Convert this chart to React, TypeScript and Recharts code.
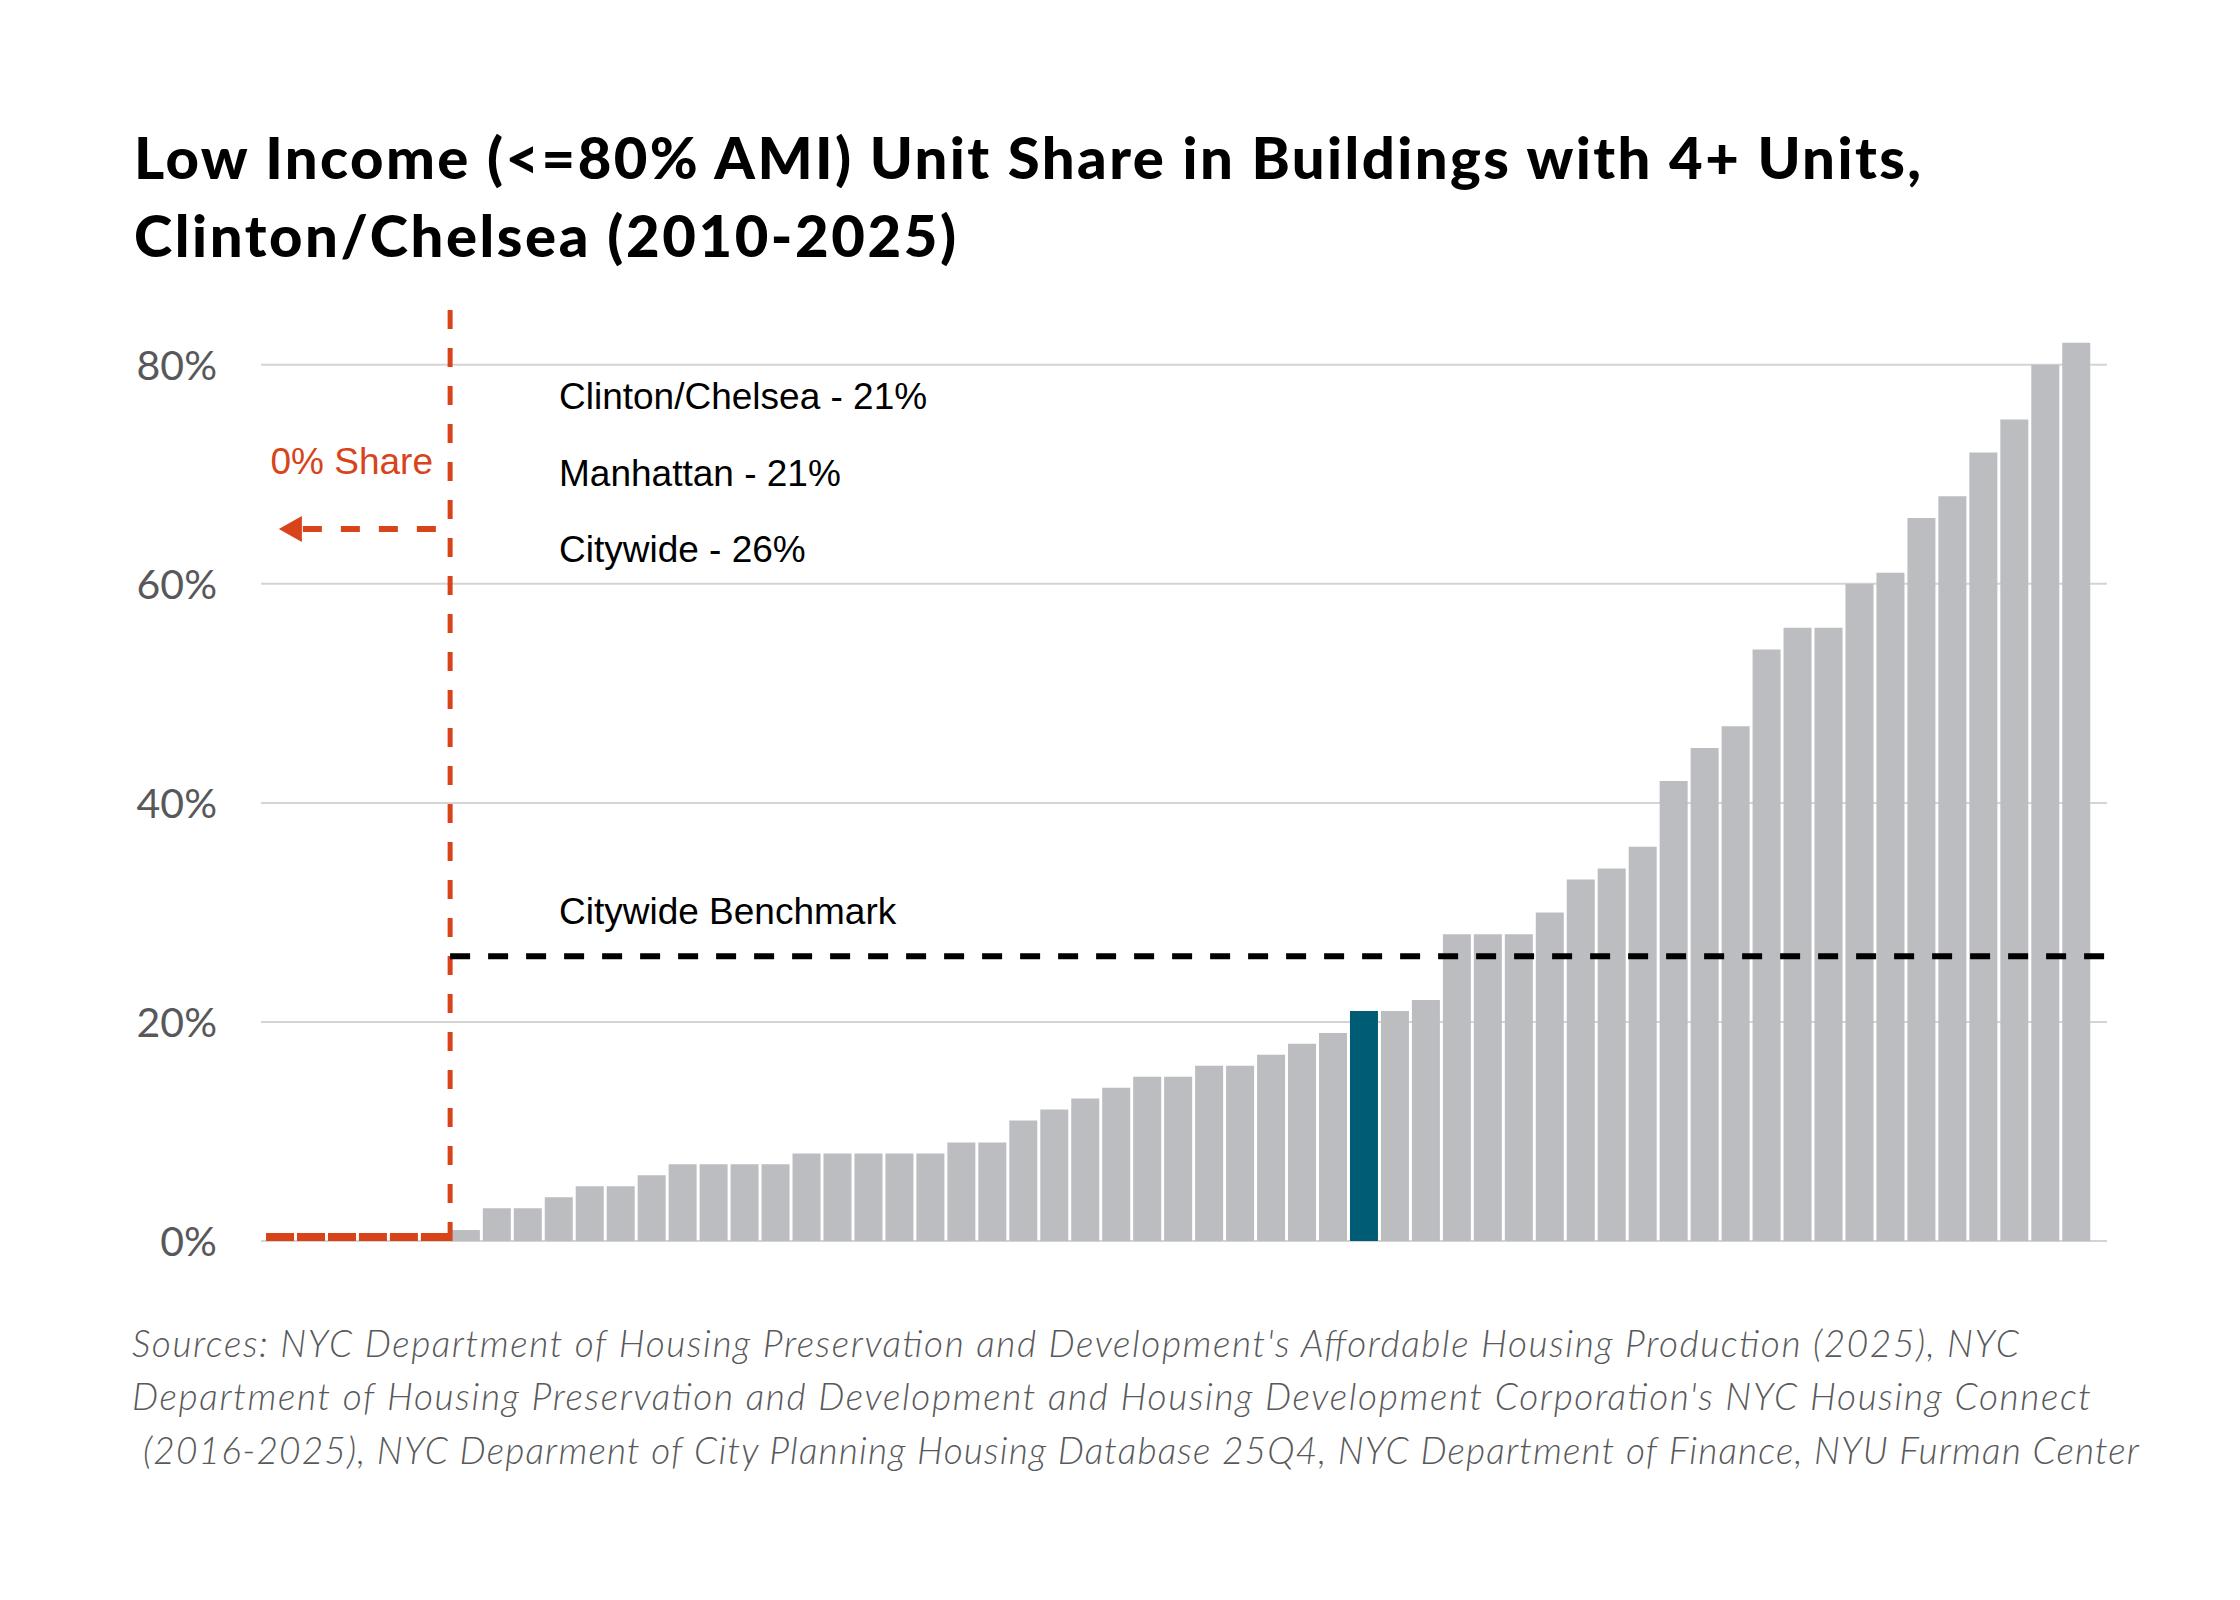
import React from 'react';
import { BarChart, Bar, Cell, XAxis, YAxis, CartesianGrid, ReferenceLine } from 'recharts';

// share of low income units (<=80% AMI) by community district, sorted ascending (percent)
const districtRanks = [
  'R01', 'R02', 'R03', 'R04', 'R05', 'R06', 'R07', 'R08', 'R09', 'R10',
  'R11', 'R12', 'R13', 'R14', 'R15', 'R16', 'R17', 'R18', 'R19', 'R20',
  'R21', 'R22', 'R23', 'R24', 'R25', 'R26', 'R27', 'R28', 'R29', 'R30',
  'R31', 'R32', 'R33', 'R34', 'R35', 'R36', 'R37', 'R38', 'R39', 'R40',
  'R41', 'R42', 'R43', 'R44', 'R45', 'R46', 'R47', 'R48', 'R49', 'R50',
  'R51', 'R52', 'R53', 'R54', 'R55', 'R56', 'R57', 'R58', 'R59',
];
const shares = [
  0, 0, 0, 0, 0, 0, 1, 3, 3, 4,
  5, 5, 6, 7, 7, 7, 7, 8, 8, 8,
  8, 8, 9, 9, 11, 12, 13, 14, 15, 15,
  16, 16, 17, 18, 19, 21, 21, 22, 28, 28,
  28, 30, 33, 34, 36, 42, 45, 47, 54, 56,
  56, 60, 61, 66, 68, 72, 75, 80, 82,
];
const highlightRank = 'R36'; // Clinton/Chelsea
const yTicks = [0, 20, 40, 60, 80];
const citywideBenchmark = 26;
const firstNonZero = shares.findIndex((v) => v > 0);
const annotationLines = ['Clinton/Chelsea - 21%', 'Manhattan - 21%', 'Citywide - 26%'];
const titleLines = [
  'Low Income (<=80% AMI) Unit Share in Buildings with 4+ Units,',
  'Clinton/Chelsea (2010-2025)',
];
const sourceLines = [
  "Sources: NYC Department of Housing Preservation and Development's Affordable Housing Production (2025), NYC",
  "Department of Housing Preservation and Development and Housing Development Corporation's NYC Housing Connect",
  '(2016-2025), NYC Deparment of City Planning Housing Database 25Q4, NYC Department of Finance, NYU Furman Center',
];

const data = districtRanks.map((d, i) => ({ district: d, idx: i, share: shares[i] }));

const GRAY = '#bcbdc1';
const TEAL = '#005b75';
const ORANGE = '#d8431a';

const YTick = (props: any) => {
  const { x, y, payload } = props;
  return (
    <text
      x={x}
      y={y}
      dy="0.36em"
      textAnchor="end"
      fill="#58585a"
      fontSize={41}
      fontFamily="Lato"
    >
      {`${payload.value}%`}
    </text>
  );
};

// dashed line with a closed arrow head at its end point
const ArrowLine = (props: any) => {
  const { x1, y1, x2, y2 } = props;
  const head = 23;
  return (
    <g>
      <line x1={x1} y1={y1} x2={x2 + head - 2} y2={y2} stroke={ORANGE} strokeWidth={6} strokeDasharray="19 19" />
      <polygon points={`${x2},${y2} ${x2 + head},${y2 - 13} ${x2 + head},${y2 + 13}`} fill={ORANGE} />
    </g>
  );
};

const App: React.FC = () => {
  return (
    <div style={{ position: 'absolute', left: 0, top: 0, width: 2240, height: 1600, background: '#fff' }}>
      <BarChart
        width={2240}
        height={1600}
        data={data}
        margin={{ top: 310, right: 133, left: 161, bottom: 359 }}
        barCategoryGap="5.6%"
      >
        <CartesianGrid
          horizontal
          vertical={false}
          horizontalValues={yTicks}
          stroke="#d4d4d4"
          strokeWidth={2}
        />
        <XAxis dataKey="district" hide padding={{ left: 3.3, right: 15.5 }} />
        <XAxis xAxisId="idx" type="number" dataKey="idx" domain={[0, shares.length]} hide padding={{ left: 3.3, right: 15.5 }} />
        <YAxis
          domain={[0, 85]}
          ticks={yTicks}
          axisLine={false}
          tickLine={false}
          tickSize={0}
          tickMargin={44}
          width={100}
          tick={<YTick />}
        />
        <Bar dataKey="share" minPointSize={8} isAnimationActive={false}>
          {data.map((d) => (
            <Cell
              key={d.district}
              fill={d.share === 0 ? ORANGE : d.district === highlightRank ? TEAL : GRAY}
            />
          ))}
        </Bar>
        <ReferenceLine
          xAxisId="idx"
          segment={[{ x: firstNonZero, y: 85 }, { x: firstNonZero, y: 0 }]}
          stroke={ORANGE}
          strokeWidth={5}
          strokeDasharray="19 19"
          ifOverflow="visible"
        />
        <ReferenceLine
          xAxisId="idx"
          segment={[{ x: firstNonZero, y: citywideBenchmark }, { x: shares.length + 0.5, y: citywideBenchmark }]}
          stroke="#000"
          strokeWidth={6}
          strokeDasharray="20 18"
          ifOverflow="visible"
        />
        <ReferenceLine
          xAxisId="idx"
          segment={[{ x: firstNonZero - 0.46, y: 65 }, { x: 0.47, y: 65 }]}
          ifOverflow="visible"
          shape={<ArrowLine />}
        />
      </BarChart>
      <svg
        width={2240}
        height={1600}
        style={{ position: 'absolute', left: 0, top: 0, pointerEvents: 'none' }}
      >
        <g fontFamily="Lato" fontWeight={900} fontSize={58} fill="#000">
          <text x={134} y={179} textLength={1787} lengthAdjust="spacing">{titleLines[0]}</text>
          <text x={134} y={257} textLength={822} lengthAdjust="spacing">{titleLines[1]}</text>
        </g>
        <g fontFamily="Liberation Sans, Arial, sans-serif" fontSize={37} fill="#000">
          <text x={559} y={409}>{annotationLines[0]}</text>
          <text x={559} y={486}>{annotationLines[1]}</text>
          <text x={559} y={562}>{annotationLines[2]}</text>
          <text x={559} y={924}>Citywide Benchmark</text>
          <text x={433} y={474} textAnchor="end" fill={ORANGE}>0% Share</text>
        </g>
        <g fontFamily="Lato" fontStyle="italic" fontWeight={300} fontSize={37} fill="#58595b">
          <text x={132} y={1357} textLength={1887} lengthAdjust="spacing">{sourceLines[0]}</text>
          <text x={132} y={1410} textLength={1959} lengthAdjust="spacing">{sourceLines[1]}</text>
          <text x={143} y={1464} textLength={1996} lengthAdjust="spacing">{sourceLines[2]}</text>
        </g>
      </svg>
    </div>
  );
};

export default App;
